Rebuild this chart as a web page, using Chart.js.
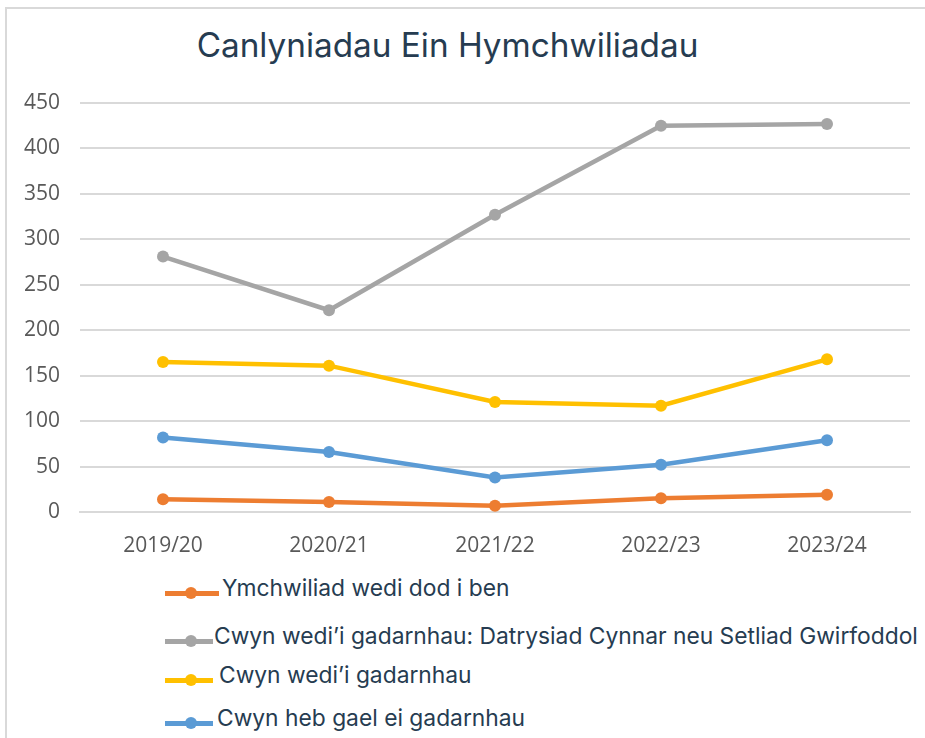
<!DOCTYPE html>
<html>
<head>
<meta charset="utf-8">
<script src="https://cdn.jsdelivr.net/npm/chart.js@4.4.1/dist/chart.umd.min.js"></script>
<style>
  body { margin: 0; background: #fff; }
  #wrap { position: relative; width: 925px; height: 738px; overflow: hidden; background: #fff; }
  #frame { position: absolute; left: 5px; top: 7px; right: -5px; bottom: -5px;
           border-left: 2px solid #d9d9d9; border-top: 2px solid #d9d9d9; }
  #title { position: absolute; left: 0; width: 895px; top: 23px; text-align: center;
           font-family: Inter, sans-serif; font-size: 33.3px; line-height: 44px; color: #263c51; }
  #chartBox { position: absolute; left: 0; top: 0; width: 925px; height: 560px; }
  .item { position: absolute; left: 165px; height: 30px; font-family: Inter, sans-serif;
          font-size: 22.8px; line-height: 30px; color: #263c51; white-space: nowrap; }
  .item .line { position: absolute; left: 0; top: 13px; height: 5px; }
  .item .dot { position: absolute; top: 9px; width: 12px; height: 12px; border-radius: 50%; }
  .item .txt { position: absolute; top: -5px; }
</style>
</head>
<body>
<div id="wrap">
  <div id="frame"></div>
  <div id="title">Canlyniadau Ein Hymchwiliadau</div>
  <div id="chartBox"><canvas id="chart" width="925" height="560"></canvas></div>
  <div id="legend"></div>
</div>
<script>
const years = ["2019/20", "2020/21", "2021/22", "2022/23", "2023/24"];
const seriesNames = [
    "Ymchwiliad wedi dod i ben",
    "Cwyn wedi\u2019i gadarnhau: Datrysiad Cynnar neu Setliad Gwirfoddol",
    "Cwyn wedi\u2019i gadarnhau",
    "Cwyn heb gael ei gadarnhau"
];
const completed = [14, 11, 7, 15, 19];
const earlyResolution = [281, 222, 327, 425, 427];
const upheld = [165, 161, 121, 117, 168];
const notUpheld = [82, 66, 38, 52, 79];
const yTicks = [0, 50, 100, 150, 200, 250, 300, 350, 400, 450];
const colours = ["#ED7D31", "#A5A5A5", "#FFC000", "#5B9BD5"];

const makeSet = (i, values) => ({
    label: seriesNames[i],
    data: values,
    borderColor: colours[i],
    backgroundColor: colours[i],
    borderWidth: 4.5,
    pointRadius: 6,
    pointBorderWidth: 0,
    pointBackgroundColor: colours[i],
    tension: 0
});

const chart = new Chart(document.getElementById("chart"), {
    type: "line",
    data: {
        labels: years,
        datasets: [
            makeSet(0, completed),
            makeSet(1, earlyResolution),
            makeSet(2, upheld),
            makeSet(3, notUpheld)
        ]
    },
    options: {
        responsive: false,
        animation: false,
        layout: { padding: { top: 103, right: 15, left: 0, bottom: 0 } },
        plugins: {
            legend: { display: false },
            title: { display: false },
            tooltip: { enabled: false }
        },
        scales: {
            x: {
                offset: true,
                grid: { display: false },
                border: { display: true, color: "#d9d9d9", width: 2 },
                ticks: { color: "#595959", padding: 13, font: { family: "'Open Sans'", size: 21 } },
                afterFit: (s) => { s.height = 48; }
            },
            y: {
                min: 0,
                max: 450,
                afterBuildTicks: (s) => { s.ticks = yTicks.map(v => ({ value: v })); },
                grid: { color: "#d9d9d9", lineWidth: 2, drawTicks: false },
                border: { display: false },
                ticks: { color: "#595959", padding: 20, font: { family: "'Open Sans'", size: 21 } },
                afterFit: (s) => { s.width = 80; }
            }
        }
    }
});

// legend below the chart, built from the chart's own legend items
const itemTops = [578, 626, 665, 708];
const lineWidths = [54, 48, 48, 48];
const textLefts = [57, 49, 54, 52];
const legendBox = document.getElementById("legend");
chart.options.plugins.legend.labels.generateLabels(chart).forEach((it, i) => {
    const item = document.createElement("div");
    item.className = "item";
    item.style.top = itemTops[i] + "px";
    const line = document.createElement("span");
    line.className = "line";
    line.style.width = lineWidths[i] + "px";
    line.style.background = it.strokeStyle;
    const dot = document.createElement("span");
    dot.className = "dot";
    dot.style.left = "20px";
    dot.style.background = it.strokeStyle;
    const txt = document.createElement("span");
    txt.className = "txt";
    txt.style.left = textLefts[i] + "px";
    txt.textContent = it.text;
    item.append(line, dot, txt);
    legendBox.appendChild(item);
});
</script>
</body>
</html>
